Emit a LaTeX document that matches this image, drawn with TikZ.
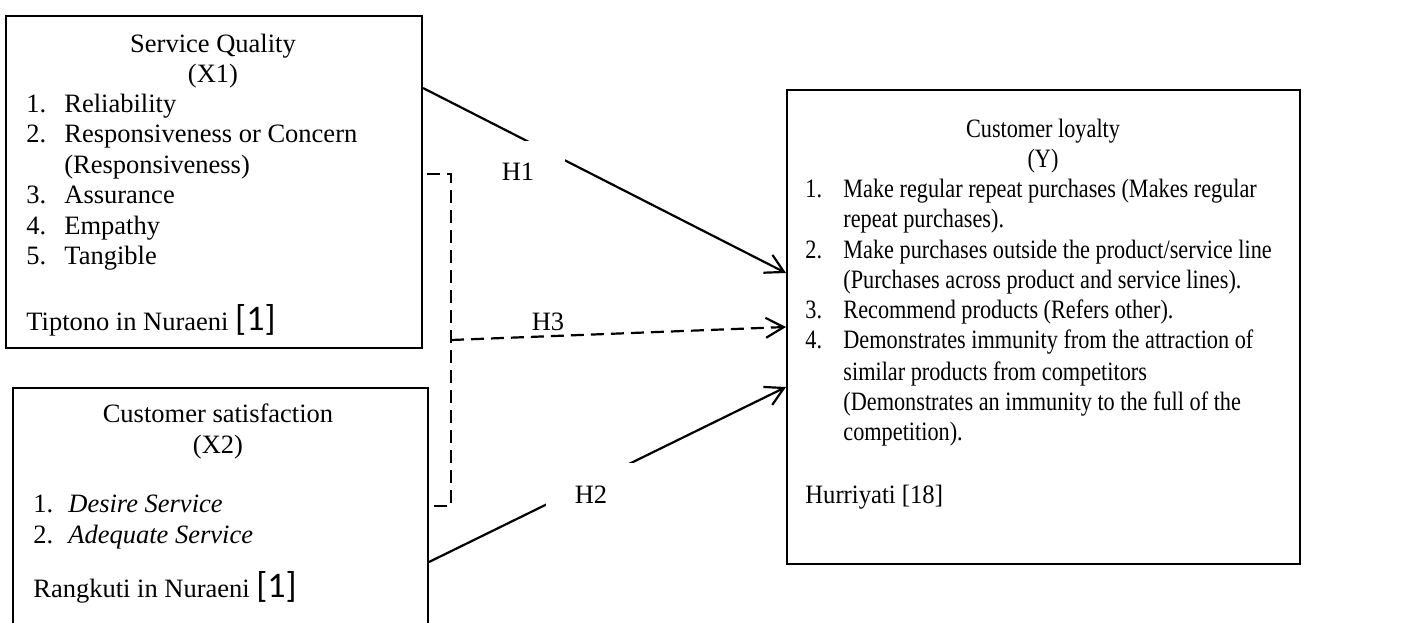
\documentclass[tikz,border=0pt]{standalone}
\usepackage{fontspec}
\setmainfont{Liberation Serif}
\newfontfamily\condfont{Liberation Serif}[FakeStretch=0.84]
\newfontfamily\semicondfont{Liberation Serif}[FakeStretch=0.93]
\newfontfamily\calfont{Carlito}
\usetikzlibrary{arrows.meta,calc}
\newcommand{\refone}{{\calfont\fontsize{18}{18}\selectfont[1]}}
\begin{document}
\begin{tikzpicture}[x=0.5pt,y=-0.5pt,
  box/.style={draw,line width=1pt,rectangle,inner sep=0pt,anchor=north west},
  txt/.style={inner sep=0pt,anchor=base west,font=\fontsize{13.25}{15}\selectfont},
  ttl/.style={txt,anchor=base},
  ctxt/.style={inner sep=0pt,anchor=base west,font=\fontsize{13.25}{15}\selectfont\condfont},
  cttl/.style={ctxt,anchor=base},
  link/.style={line width=1.1pt,-{Straight Barb[length=9pt,width=10pt,line width=1.1pt]}},
  dlink/.style={link,dash pattern=on 6.5pt off 3.5pt},
  bracket/.style={line width=1.1pt,dash pattern=on 6.5pt off 3.5pt},
  hlab/.style={inner sep=0pt,font=\fontsize{13.25}{15}\selectfont},
]
\useasboundingbox (0,0) rectangle (1403,622);

% boxes
\node[box,minimum width=208pt,minimum height=166pt] (b1) at (5,15) {};
\node[box,minimum width=207.5pt,minimum height=121.5pt] (b2) at (12,387) {};
\node[box,minimum width=256.5pt,minimum height=237pt] (b3) at (786,89) {};

% box 1 text
\node[ttl] (t1) at (213,52) {Service Quality};
\node[ttl] (t1b) at (213,82) {(X1)};
\node[txt] (a1n) at (26,112) {1.};
\node[txt] (a1) at (64,112) {Reliability};
\node[txt] (a2n) at (26,142.5) {2.};
\node[txt] (a2) at (64,142.5) {Responsiveness or Concern};
\node[txt] (a2b) at (64,173) {(Responsiveness)};
\node[txt] (a3n) at (26,203.5) {3.};
\node[txt] (a3) at (64,203.5) {Assurance};
\node[txt] (a4n) at (26,234) {4.};
\node[txt] (a4) at (64,234) {Empathy};
\node[txt] (a5n) at (26,264.5) {5.};
\node[txt] (a5) at (64,264.5) {Tangible};
\node[txt] (aref) at (26,330) {Tiptono in Nuraeni \refone};

% box 2 text
\node[ttl] (t2) at (218,422) {Customer satisfaction};
\node[ttl] (t2b) at (218,453) {(X2)};
\node[txt] (c1n) at (33,512) {1.};
\node[txt] (c1) at (68,512) {\itshape Desire Service};
\node[txt] (c2n) at (33,543) {2.};
\node[txt] (c2) at (68,543) {\itshape Adequate Service};
\node[txt] (cref) at (33,597) {Rangkuti in Nuraeni \refone};

% box 3 text
\node[cttl] (t3) at (1043,137) {Customer loyalty};
\node[cttl] (t3b) at (1043,167) {(Y)};
\node[ctxt] (y1n) at (805,197) {1.};
\node[ctxt] (y1a) at (843,197) {Make regular repeat purchases (Makes regular};
\node[ctxt] (y1b) at (843,227) {repeat purchases).};
\node[ctxt] (y2n) at (805,258) {2.};
\node[ctxt] (y2a) at (843,258) {Make purchases outside the product/service line};
\node[ctxt] (y2b) at (843,288) {(Purchases across product and service lines).};
\node[ctxt] (y3n) at (805,318) {3.};
\node[ctxt] (y3a) at (843,318) {Recommend products (Refers other).};
\node[ctxt] (y4n) at (805,348) {4.};
\node[ctxt] (y4a) at (843,348) {Demonstrates immunity from the attraction of};
\node[ctxt] (y4b) at (843,380) {similar products from competitors};
\node[ctxt] (y4c) at (843,410) {(Demonstrates an immunity to the full of the};
\node[ctxt] (y4d) at (843,440) {competition).};
\node[inner sep=0pt,anchor=base west,font=\fontsize{13.25}{15}\selectfont\semicondfont] (yref) at (805,503) {Hurriyati [18]};

% connectors
\draw[link] ($(b1.north east)+(0,73)$) -- ($(b3.north west)+(0,184)$);
\draw[link] ($(b2.north east)+(0,175)$) -- ($(b3.north west)+(0,298)$);
\coordinate (brt) at (451,174);
\coordinate (brb) at (451,506);
\coordinate (h3s) at (451,340);
\draw[bracket] ($(b1.north east)+(4,159)$) -- (brt) -- (brb) -- ($(b2.north east)+(-2,119)$);
\draw[dlink] (h3s) -- ($(b3.north west)+(0,238)$);

% labels
\node[hlab,fill=white,minimum width=47pt,minimum height=31pt] (h1) at (518,172) {H1};
\node[hlab,fill=white,minimum width=45pt,minimum height=32pt] (h2) at (591,495) {H2};
\node[hlab] (h3) at (548,322) {H3};
\end{tikzpicture}
\end{document}
